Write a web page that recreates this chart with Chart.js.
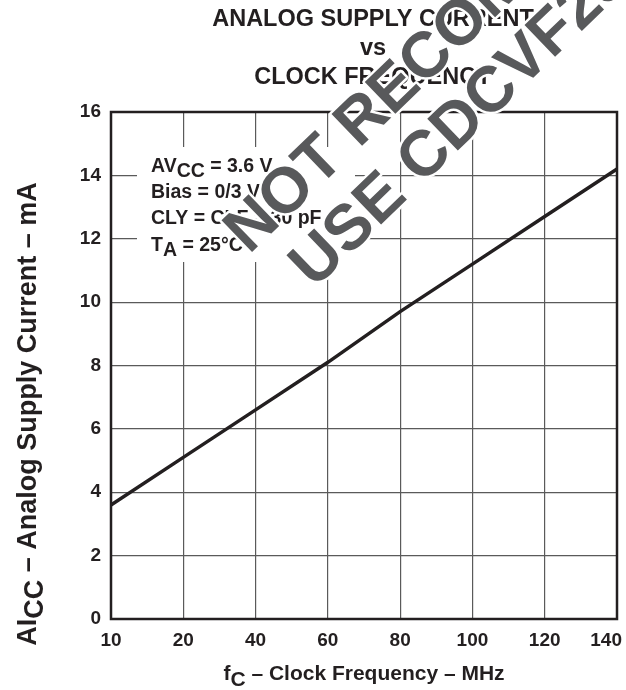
<!DOCTYPE html>
<html>
<head>
<meta charset="utf-8">
<script src="https://cdn.jsdelivr.net/npm/chart.js@4.4.0/dist/chart.umd.min.js"></script>
<style>
  html, body { margin: 0; padding: 0; background: #fff; }
  #wrap { width: 626px; height: 690px; }
</style>
</head>
<body>
<div id="wrap"><canvas id="myChart" width="626" height="690"></canvas></div>
<script>
// data
const freqLabels = ["10", "20", "40", "60", "80", "100", "120", "140"];
const supplyCurrent = [3.6, 5.1, 6.6, 8.1, 9.7, 11.2, 12.7, 14.2];
const yMin = 0;
const yMax = 16;
const yStep = 2;

const titleLines = ["ANALOG SUPPLY CURRENT", "vs", "CLOCK FREQUENCY"];
// [text, isSubscript]
const conditionLines = [
  [["AV", false], ["CC", true], [" = 3.6 V", false]],
  [["Bias = 0/3 V", false]],
  [["CLY = CLF = 30 pF", false]],
  [["T", false], ["A", true], [" = 25°C", false]],
];
const xTitle = [["f", false], ["C", true], [" – Clock Frequency – MHz", false]];
const yTitle = [["AI", false], ["CC", true], [" – Analog Supply Current – mA", false]];
const watermark = ["NOT RECOMMENDED FOR NEW DESIGNS", "USE CDCVF2505 INSTEAD"];

const FONT = "'Liberation Sans', Arial, Helvetica, sans-serif";
const INK = "#231f20";

function richWidth(ctx, parts, size) {
  let w = 0;
  parts.forEach(([t, sub]) => {
    ctx.font = "bold " + size + "px " + FONT;
    w += ctx.measureText(t).width;
  });
  return w;
}

function drawRich(ctx, parts, x, y, size, align, subDrop) {
  let w = richWidth(ctx, parts, size);
  let cx = align === "center" ? x - w / 2 : x;
  ctx.textAlign = "left";
  ctx.textBaseline = "alphabetic";
  parts.forEach(([t, sub]) => {
    ctx.font = "bold " + size + "px " + FONT;
    ctx.fillText(t, cx, sub ? y + subDrop : y);
    cx += ctx.measureText(t).width;
  });
}

const decorations = {
  id: "decorations",
  beforeDatasetsDraw(chart) {
    const ctx = chart.ctx;
    ctx.save();
    // white box behind the test conditions
    ctx.fillStyle = "#fff";
    ctx.fillRect(137, 147, 218, 115);
    ctx.fillStyle = INK;
    const baselines = [172, 198, 224, 251];
    conditionLines.forEach((parts, i) => {
      drawRich(ctx, parts, 151, baselines[i], 19.5, "left", 5);
    });
    ctx.restore();
  },
  afterDatasetsDraw(chart) {
    const ctx = chart.ctx;
    const area = chart.chartArea;
    ctx.save();
    ctx.strokeStyle = INK;
    ctx.lineWidth = 2.5;
    ctx.strokeRect(area.left, area.top, area.right - area.left, area.bottom - area.top);
    ctx.restore();
  },
  afterDraw(chart) {
    const ctx = chart.ctx;
    const area = chart.chartArea;
    const xs = chart.scales.x;
    ctx.save();
    ctx.fillStyle = INK;

    // title
    ctx.font = "bold 23.5px " + FONT;
    ctx.textAlign = "center";
    ctx.textBaseline = "middle";
    titleLines.forEach((t, i) => ctx.fillText(t, 373, 20 + i * 29));

    // x tick labels, last one kept inside the canvas
    ctx.font = "bold 19px " + FONT;
    ctx.textBaseline = "middle";
    freqLabels.forEach((lab, i) => {
      let x = xs.getPixelForTick(i);
      const w = ctx.measureText(lab).width;
      if (x + w / 2 > chart.width - 4) x = chart.width - 4 - w / 2;
      ctx.textAlign = "center";
      ctx.fillText(lab, x, area.bottom + 22);
    });

    // axis titles
    drawRich(ctx, xTitle, (area.left + area.right) / 2, 680, 21, "center", 6);
    ctx.save();
    ctx.translate(36, 414);
    ctx.rotate(-Math.PI / 2);
    drawRich(ctx, yTitle, 0, 0, 27, "center", 7);
    ctx.restore();

    // watermark
    ctx.font = "bold 64px " + FONT;
    ctx.textAlign = "left";
    ctx.textBaseline = "alphabetic";
    ctx.translate(249, 255);
    ctx.rotate(-44 * Math.PI / 180);
    ctx.lineJoin = "round";
    ctx.strokeStyle = "#fff";
    ctx.lineWidth = 5;
    ctx.fillStyle = "#58595b";
    ctx.strokeText(watermark[0], 0, 0);
    ctx.fillText(watermark[0], 0, 0);
    ctx.strokeText(watermark[1], 23, 70);
    ctx.fillText(watermark[1], 23, 70);
    ctx.restore();
  },
};

const config = {
  type: "line",
  data: {
    labels: freqLabels,
    datasets: [
      {
        data: supplyCurrent,
        borderColor: INK,
        borderWidth: 3.5,
        pointRadius: 0,
        tension: 0,
        fill: false,
      },
    ],
  },
  options: {
    responsive: false,
    animation: false,
    devicePixelRatio: 1,
    layout: {
      padding: { left: 0, top: 112, right: 9, bottom: 0 },
    },
    plugins: {
      legend: { display: false },
      title: { display: false },
      tooltip: { enabled: false },
    },
    scales: {
      x: {
        type: "category",
        offset: false,
        grid: { color: "#5a5a5a", lineWidth: 1.2, drawTicks: false },
        border: { display: false },
        ticks: { display: false },
        afterFit: (s) => { s.height = 71; },
      },
      y: {
        min: yMin,
        max: yMax,
        grid: { color: "#5a5a5a", lineWidth: 1.2, drawTicks: false },
        border: { display: false },
        ticks: {
          stepSize: yStep,
          padding: 10,
          color: INK,
          font: { family: FONT, size: 19, weight: "bold" },
        },
        afterFit: (s) => { s.width = 111; },
      },
    },
  },
  plugins: [decorations],
};

new Chart(document.getElementById("myChart"), config);
</script>
</body>
</html>
